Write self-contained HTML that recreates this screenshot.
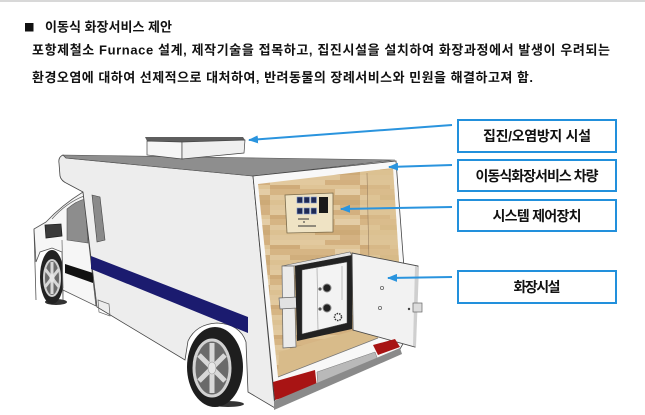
<!DOCTYPE html>
<html>
<head>
<meta charset="utf-8">
<style>
  html,body{margin:0;padding:0;background:#fff;}
  body{width:645px;height:415px;overflow:hidden;}
  svg{display:block;}
  .t{font-family:"Liberation Sans","Noto Sans CJK KR",sans-serif;fill:#111;font-weight:bold;}
</style>
</head>
<body>
<svg width="645" height="415" viewBox="0 0 645 415" xmlns="http://www.w3.org/2000/svg">
  <defs>
    <pattern id="wood" width="90" height="30" patternUnits="userSpaceOnUse">
      <rect width="90" height="30" fill="#d9bb8b"/>
      <rect x="0" y="0" width="55" height="5" fill="#e2c99e"/>
      <rect x="55" y="0" width="35" height="5" fill="#d3b07f"/>
      <rect x="0" y="5" width="30" height="4" fill="#cfab79"/>
      <rect x="30" y="5" width="60" height="4" fill="#dfc496"/>
      <rect x="0" y="9" width="65" height="6" fill="#d6b584"/>
      <rect x="65" y="9" width="25" height="6" fill="#e4cda6"/>
      <rect x="0" y="15" width="20" height="5" fill="#e0c79c"/>
      <rect x="20" y="15" width="70" height="5" fill="#d0ae7c"/>
      <rect x="0" y="20" width="45" height="5" fill="#dcc192"/>
      <rect x="45" y="20" width="45" height="5" fill="#cdaa77"/>
      <rect x="0" y="25" width="70" height="5" fill="#dfc69b"/>
      <rect x="70" y="25" width="20" height="5" fill="#d4b282"/>
    </pattern>
    <marker id="ah" markerUnits="userSpaceOnUse" markerWidth="10" markerHeight="8" viewBox="0 0 10 8" refX="9" refY="4" orient="auto">
      <path d="M0,0 L10,4 L0,8 Z" fill="#2a94de"/>
    </marker>
  </defs>

  <rect x="0" y="0" width="645" height="2" fill="#d8d8d8"/>

  <!-- Text -->
  <rect x="25" y="23" width="8.5" height="8.5" fill="#111"/>
  <text class="t" x="45" y="31.5" font-size="13" textLength="127" lengthAdjust="spacing">이동식 화장서비스 제안</text>
  <text class="t" x="32" y="54.5" font-size="13" textLength="578" lengthAdjust="spacing">포항제철소 Furnace 설계, 제작기술을 접목하고, 집진시설을 설치하여 화장과정에서 발생이 우려되는</text>
  <text class="t" x="32" y="82" font-size="13" textLength="501" lengthAdjust="spacing">환경오염에 대하여 선제적으로 대처하여, 반려동물의 장례서비스와 민원을 해결하고져 함.</text>

  <!-- Front wheel -->
  <ellipse cx="56" cy="302" rx="11" ry="3" fill="#333"/>
  <ellipse cx="52" cy="277" rx="12" ry="27" fill="#222"/>
  <ellipse cx="52" cy="278" rx="8" ry="18" fill="#6a6a6a" stroke="#d0d0d0" stroke-width="2"/>
  <g stroke="#d8d8d8" stroke-width="3">
    <line x1="52" y1="278" x2="52" y2="262"/>
    <line x1="52" y1="278" x2="59" y2="269"/>
    <line x1="52" y1="278" x2="59" y2="287"/>
    <line x1="52" y1="278" x2="52" y2="294"/>
    <line x1="52" y1="278" x2="45" y2="287"/>
    <line x1="52" y1="278" x2="45" y2="269"/>
  </g>
  <ellipse cx="52" cy="278" rx="2.5" ry="4" fill="#e6e6e6"/>

  <!-- Cab -->
  <path d="M34,229 L46,222 Q62,205 83,192 L96,306 L63,290 L63,300 L62,252 L52,248 L40,252 L36,262 Z" fill="#f6f6f6" stroke="#555" stroke-width="0.8"/>
  <path d="M34,229 L36,300" stroke="#555" stroke-width="0.8" fill="none"/>
  <path d="M52,219 Q66,203 84,196" stroke="#666" stroke-width="0.7" fill="none"/>
  <path d="M67,209 Q76,201 85,199 L88,243 L67,240 Z" fill="#8d8d8d" stroke="#555" stroke-width="0.6"/>
  <path d="M45,225 L61,224 L62,236 L46,238 Z" fill="#3a3a3a" stroke="#222" stroke-width="0.8"/>
  <line x1="62" y1="240" x2="63" y2="288" stroke="#666" stroke-width="0.7"/>
  <path d="M65,264 L93,273 L93,283 L65,273 Z" fill="#111"/>

  <!-- Camper side panel -->
  <path d="M63,155 Q58,157 59,163 L60,176 Q61,181 68,184 L83,192 L97,307 L185,360 L188,341 Q196,324 217,323 Q240,324 246,342 L248,392 L275,408 L253,176 L66,158 Z" fill="#ededed" stroke="#444" stroke-width="0.8"/>
  <path d="M92,195 L100,197 L105,240 L97,242 Z" fill="#8a8a8a" stroke="#444" stroke-width="0.6"/>
  <path d="M91,256 L248,317 L248,333 L91,269 Z" fill="#1b1b6f"/>
  <path d="M98,300 L109,304 L110,316 L99,312 Z" fill="none" stroke="#666" stroke-width="0.7"/>

  <!-- Roof -->
  <path d="M63,155 L395,160 L253,176 L66,158 Z" fill="#8e8e8e" stroke="#555" stroke-width="0.6"/>

  <!-- AC unit -->
  <path d="M145,137 L243,137 L245,140 L182,142 L147,141 Z" fill="#5e5e5e"/>
  <path d="M147,141 L182,142 L182,159 L147,155 Z" fill="#f5f5f5" stroke="#444" stroke-width="0.7"/>
  <path d="M182,142 L245,140 L244,153 L182,159 Z" fill="#efefef" stroke="#444" stroke-width="0.7"/>

  <!-- Rear frame -->
  <path d="M253,176 L396,161 L404,268 L404,342 L400,349 L275,403 Z" fill="#f8f8f8" stroke="#444" stroke-width="0.8"/>

  <!-- Wood interior -->
  <path d="M258,184 L393,168 L399,262 L386,334 L278,377 Z" fill="url(#wood)"/>
  <path d="M367,173 L393,168 L399,262 L370,268 Z" fill="#dcc291" opacity="0.6"/>
  <line x1="367" y1="173" x2="369" y2="262" stroke="#9a8060" stroke-width="0.6"/>
  <path d="M279,352 L352,331 L386,326 L378,338 L278,377 Z" fill="#d8bb8a"/>
  <path d="M278,377 L378,338" stroke="#777" stroke-width="0.7"/>

  <!-- Control panel -->
  <path d="M285,195 L333,193 L333,232 L287,233 Z" fill="#efe3c4" stroke="#7a6a4a" stroke-width="0.8"/>
  <g fill="#1f2a55" stroke="#7f9ad0" stroke-width="0.6">
    <rect x="297" y="197" width="5.5" height="6"/>
    <rect x="304" y="197" width="5.5" height="6"/>
    <rect x="311" y="197" width="5.5" height="6"/>
    <rect x="297" y="208" width="5.5" height="6"/>
    <rect x="304" y="208" width="5.5" height="6"/>
    <rect x="311" y="208" width="5.5" height="6"/>
  </g>
  <rect x="319" y="197" width="9" height="16" fill="#1a1a1a"/>
  <g stroke="#333" stroke-width="1">
    <line x1="298" y1="219" x2="309" y2="219"/>
    <line x1="303" y1="222" x2="305" y2="222"/>
    <line x1="298" y1="226" x2="316" y2="226"/>
  </g>

  <!-- Furnace -->
  <path d="M282,266 L350,252 L352,256 L294,266 Z" fill="#e4e4e4" stroke="#666" stroke-width="0.6"/>
  <path d="M282,266 L294,266 L296,347 L283,348 Z" fill="#ebebeb" stroke="#666" stroke-width="0.7"/>
  <path d="M279,298 L297,297 L297,308 L280,309 Z" fill="#e2e2e2" stroke="#666" stroke-width="0.7"/>
  <path d="M295,266 L352,255 L352,329 L297,341 Z" fill="#222"/>
  <path d="M302,270 L347,262 L347,323 L302,334 Z" fill="#f3f3f3" stroke="#555" stroke-width="0.5"/>
  <line x1="317" y1="268" x2="318" y2="330" stroke="#999" stroke-width="0.6"/>
  <line x1="342" y1="266" x2="342" y2="300" stroke="#999" stroke-width="0.6"/>
  <circle cx="327" cy="288" r="4" fill="#222" stroke="#888" stroke-width="1"/>
  <circle cx="327" cy="308" r="4" fill="#222" stroke="#888" stroke-width="1"/>
  <circle cx="320" cy="289" r="1.6" fill="#555"/>
  <circle cx="320" cy="309" r="1.6" fill="#555"/>
  <circle cx="338" cy="317" r="3.5" fill="none" stroke="#333" stroke-width="1.5" stroke-dasharray="1.5 1"/>

  <!-- Open door -->
  <path d="M352,253 L418,266 L415,347 L353,330 Z" fill="#f2f2f2" stroke="#4a4a4a" stroke-width="0.9"/>
  <path d="M415,266 L419,267 L416,347 L413,346 Z" fill="#cfcfcf"/>
  <circle cx="382" cy="288" r="1.6" fill="none" stroke="#666" stroke-width="0.8"/>
  <circle cx="380" cy="308" r="1.6" fill="none" stroke="#666" stroke-width="0.8"/>
  <rect x="413" y="303" width="9" height="9" fill="#dcdcdc" stroke="#666" stroke-width="0.7"/>
  <circle cx="409" cy="309" r="1.2" fill="#444"/>

  <!-- Bumper & reflectors -->
  <path d="M317,372 L375,352 L378,360 L318,390 Z" fill="#b9b9b9" stroke="#777" stroke-width="0.5"/>
  <path d="M273,382 L315,370 L317,388 L275,400 Z" fill="#a81414"/>
  <path d="M373,345 L395,339 L400,347 L378,355 Z" fill="#a81414"/>
  <path d="M274,401 L400,348 L402,354 L274,410 Z" fill="#8a8a8a"/>

  <!-- Rear wheel -->
  <ellipse cx="228" cy="404" rx="16" ry="3" fill="#333"/>
  <ellipse cx="215" cy="367" rx="28" ry="40" fill="#1e1e1e"/>
  <ellipse cx="212" cy="368" rx="18" ry="28" fill="#6a6a6a" stroke="#d2d2d2" stroke-width="3"/>
  <g stroke="#d8d8d8" stroke-width="5">
    <line x1="212" y1="368" x2="212" y2="343"/>
    <line x1="212" y1="368" x2="225" y2="355"/>
    <line x1="212" y1="368" x2="225" y2="381"/>
    <line x1="212" y1="368" x2="212" y2="393"/>
    <line x1="212" y1="368" x2="199" y2="381"/>
    <line x1="212" y1="368" x2="199" y2="355"/>
  </g>
  <ellipse cx="212" cy="368" rx="4" ry="6" fill="#e6e6e6" stroke="#999" stroke-width="0.6"/>

  <!-- Arrows -->
  <g stroke="#2a94de" stroke-width="2" fill="none">
    <line x1="452" y1="125" x2="249" y2="140" marker-end="url(#ah)"/>
    <line x1="452" y1="165" x2="389" y2="167" marker-end="url(#ah)"/>
    <line x1="452" y1="207" x2="341" y2="209" marker-end="url(#ah)"/>
    <line x1="452" y1="277" x2="388" y2="278" marker-end="url(#ah)"/>
  </g>

  <!-- Label boxes -->
  <g fill="#fff" stroke="#2290dc" stroke-width="2">
    <rect x="458" y="120" width="158" height="32"/>
    <rect x="458" y="160" width="158" height="31"/>
    <rect x="458" y="200" width="158" height="31"/>
    <rect x="458" y="271" width="158" height="32"/>
  </g>
  <g class="t" font-size="14" text-anchor="middle">
    <text x="537" y="141" textLength="108" lengthAdjust="spacing">집진/오염방지 시설</text>
    <text x="537" y="181" textLength="123" lengthAdjust="spacing">이동식화장서비스 차량</text>
    <text x="537" y="221" textLength="89" lengthAdjust="spacing">시스템 제어장치</text>
    <text x="537" y="292" textLength="47" lengthAdjust="spacing">화장시설</text>
  </g>
</svg>
</body>
</html>
